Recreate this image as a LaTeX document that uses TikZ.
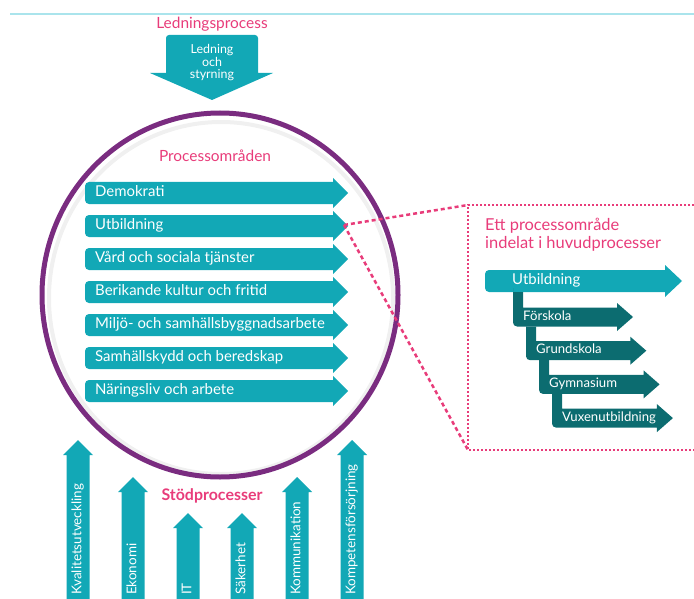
\documentclass[tikz,border=0pt]{standalone}
\usepackage{fontspec}
\setmainfont{Lato}
\definecolor{tealc}{RGB}{18,168,182}
\definecolor{darkteal}{RGB}{12,108,112}
\definecolor{purplec}{RGB}{122,44,128}
\definecolor{pinkc}{RGB}{232,60,122}
\definecolor{linec}{RGB}{170,228,236}

\begin{document}
\begin{tikzpicture}[x=1bp,y=-1bp,
  title/.style={text=pinkc,font=\fontsize{15.5}{17}\selectfont,inner sep=0pt},
  rowtext/.style={text=white,font=\fontsize{15}{17}\selectfont,anchor=west,inner sep=0pt,text height=10.5bp,text depth=3bp},
  subtext/.style={text=white,font=\fontsize{13.2}{15}\selectfont,anchor=west,inner sep=0pt,text height=9bp,text depth=2.5bp},
  uptext/.style={text=white,font=\fontsize{13.5}{15}\selectfont,anchor=west,rotate=90,inner sep=0pt,text height=9.5bp,text depth=3bp},
  zoomline/.style={pinkc,line width=2.5bp,dash pattern=on 4bp off 3bp},
  panelline/.style={pinkc,line width=2.5bp,dash pattern=on 2bp off 2bp},
]
\useasboundingbox (0,0) rectangle (694,599);

% top rule
\draw[linec,line width=1.5bp] (10,14) -- (694,14);

% ledningsprocess
\node[title] (ledproc) at (212,24) {Ledningsprocess};
\fill[tealc] (166,73) [rounded corners=3bp] -- (166,35) -- (258,35) [sharp corners] -- (258,73) -- (273,73) -- (212,100) -- (150,73) -- cycle;
\node[text=white,font=\fontsize{12.5}{12.5}\selectfont,align=center,inner sep=0pt] (ledning) at (212,63) {Ledning\\och\\styrning};

% circle
\draw[black!6,line width=4bp] (221,298) ellipse [x radius=172,y radius=176];
\draw[purplec,line width=5bp] (220,295) ellipse [x radius=178,y radius=182];
\node[title] (omraden) at (215,156) {Processområden};

% process areas
\foreach \y/\name/\txt in {193/demokrati/Demokrati,226/utbildning/Utbildning,259/vard/Vård och sociala tjänster,292/kultur/Berikande kultur och fritid,325/miljo/Miljö- och samhällsbyggnadsarbete,358/skydd/Samhällskydd och beredskap,391/naring/Näringsliv och arbete} {
  \fill[tealc] (333,\y-11) [rounded corners=4bp] -- (85,\y-11) -- (85,\y+11) [sharp corners] -- (333,\y+11) -- (333,\y+15) -- (348,\y) -- (333,\y-15) -- cycle;
  \node[rowtext] (\name) at (95,\y) {\txt};
}

% zoom to huvudprocesser
\coordinate (utip) at (344,225);
\coordinate (panelnw) at (468,205);
\coordinate (panelsw) at (468,450);
\draw[zoomline] (utip) -- (panelnw);
\draw[zoomline] (utip) -- (panelsw);
\draw[panelline] (694,205) -- (panelnw) -- (panelsw) -- (694,450);

\node[title,anchor=north west,align=left,font=\fontsize{16.5}{18.5}\selectfont] (paneltitle) at (485,218) {Ett processområde\\indelat i huvudprocesser};

\fill[tealc] (665,270) [rounded corners=4bp] -- (485,270) -- (485,292) [sharp corners] -- (665,292) -- (665,297) -- (682,281) -- (665,265) -- cycle;
\node[rowtext] (utbhuvud) at (512,281) {Utbildning};

\foreach \i/\name/\txt in {0/forskola/Förskola,1/grundskola/Grundskola,2/gymnasium/Gymnasium,3/vuxen/Vuxenutbildning} {
  \pgfmathsetmacro\bx{513+13*\i}
  \pgfmathsetmacro\cy{317+33.7*\i}
  \pgfmathsetmacro\st{\i==0 ? 292 : \cy-33.7+9.5}
  \pgfmathsetmacro\ex{617+13.3*\i}
  \fill[darkteal] (\bx,\st) -- (\bx+10,\st) -- (\bx+10,\cy-9.5) -- (\ex,\cy-9.5) -- (\ex,\cy-14) -- (\ex+16,\cy) -- (\ex,\cy+14) -- (\ex,\cy+9.5) [rounded corners=4bp] -- (\bx,\cy+9.5) -- (\bx,\st) [sharp corners] -- cycle;
  \node[subtext] (\name) at (\bx+10,\cy) {\txt};
}

% stodprocesser
\node[title,font=\fontsize{16}{18}\bfseries] (stod) at (212,496) {Stödprocesser};
\foreach \x/\tip/\name/\txt in {78/440/kvalitet/Kvalitetsutveckling,133/477/ekonomi/Ekonomi,188/513/it/IT,242/513/sakerhet/Säkerhet,297/477/kommunikation/Kommunikation,352/440/kompetens/Kompetensförsörjning} {
  \fill[tealc] (\x-11.5,599) -- (\x-11.5,\tip+15) -- (\x-15,\tip+15) -- (\x,\tip) -- (\x+15,\tip+15) -- (\x+11.5,\tip+15) -- (\x+11.5,599) -- cycle;
  \node[uptext] (\name) at (\x,595) {\txt};
}
\end{tikzpicture}
\end{document}
